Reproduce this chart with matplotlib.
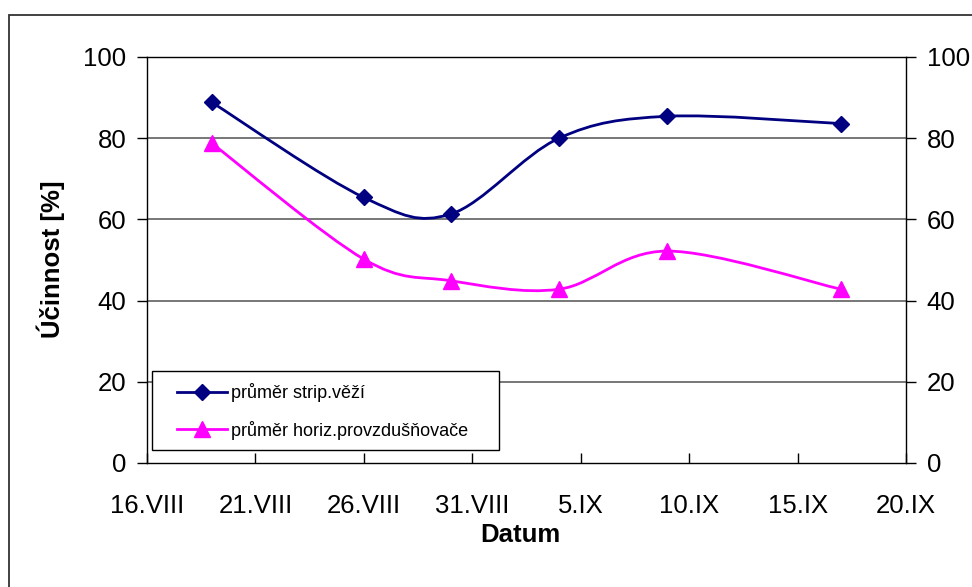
import numpy as np
import pandas as pd
import matplotlib
matplotlib.use("Agg")
import matplotlib.pyplot as plt
import matplotlib.dates as mdates
from matplotlib.path import Path
from matplotlib.patches import PathPatch, Rectangle
from matplotlib.lines import Line2D

plt.rcParams['font.family'] = ['Liberation Sans', 'DejaVu Sans']

# ---- data ----
dates = ["2008-08-19", "2008-08-26", "2008-08-30", "2008-09-04", "2008-09-09", "2008-09-17"]
strip_veze = [88.8, 65.4, 61.3, 80.0, 85.4, 83.6]
horiz_provzd = [78.7, 50.2, 44.9, 42.8, 52.2, 42.8]
series_names = ["průměr strip.věží", "průměr horiz.provzdušňovače"]
x_ticks = ["2008-08-16", "2008-08-21", "2008-08-26", "2008-08-31",
           "2008-09-05", "2008-09-10", "2008-09-15", "2008-09-20"]
x_tick_labels = ["16.VIII", "21.VIII", "26.VIII", "31.VIII", "5.IX", "10.IX", "15.IX", "20.IX"]
y_ticks = [0, 20, 40, 60, 80, 100]
y_label = "Účinnost [%]"
x_label = "Datum"

xd = mdates.date2num(pd.to_datetime(dates))
xt = mdates.date2num(pd.to_datetime(x_ticks))


def smooth_path(x, y):
    """Excel-like smoothed line: Catmull-Rom converted to cubic Bezier segments."""
    pts = np.column_stack([x, y]).astype(float)
    n = len(pts)
    verts = [pts[0]]
    codes = [Path.MOVETO]
    for i in range(n - 1):
        p0 = pts[i - 1] if i > 0 else pts[i]
        p1 = pts[i]
        p2 = pts[i + 1]
        p3 = pts[i + 2] if i + 2 < n else pts[i + 1]
        c1 = p1 + (p2 - p0) / 6.0
        c2 = p2 - (p3 - p1) / 6.0
        verts += [c1, c2, p2]
        codes += [Path.CURVE4] * 3
    return Path(verts, codes)


W, H = 972, 587
fig = plt.figure(figsize=(W / 100, H / 100), dpi=100)

# outer chart border (extends beyond the image on right and bottom)
fig.patches.append(Rectangle((8.7 / W, -0.1), 1.2, (H - 14.7) / H + 0.1,
                             transform=fig.transFigure, fill=False,
                             edgecolor='#333333', linewidth=1.3))

ax = fig.add_axes([147 / W, (H - 463) / H, (906 - 147) / W, (463 - 57) / H])
ax.set_xlim(xt[0], xt[-1])
ax.set_ylim(0, 100)

for v in y_ticks[1:]:
    ax.axhline(v, color='#606060', linewidth=1.2, zorder=1)

navy = '#000080'
magenta = '#FF00FF'
LW = 2.0
ax.add_patch(PathPatch(smooth_path(xd, strip_veze), facecolor='none',
                       edgecolor=navy, linewidth=LW, zorder=3))
ax.add_patch(PathPatch(smooth_path(xd, horiz_provzd), facecolor='none',
                       edgecolor=magenta, linewidth=LW, zorder=3))
ax.plot(xd, strip_veze, linestyle='none', marker='D', markersize=8.3,
        color=navy, zorder=4)
ax.plot(xd, horiz_provzd, linestyle='none', marker='^', markersize=11,
        color=magenta, zorder=4)

ax.set_xticks(xt)
ax.set_xticklabels(x_tick_labels)
ax.set_yticks(y_ticks)
ax.tick_params(axis='x', direction='in', length=7, width=1, labelsize=18.5, pad=22)
ax.tick_params(axis='y', direction='out', length=7, width=1, labelsize=18.5, pad=8,
               right=True, labelright=True)
for s in ax.spines.values():
    s.set_color('black')
    s.set_linewidth(1.0)

fig.text(51 / W, 1 - 259 / H, y_label, fontsize=18.5, fontweight='bold',
         rotation=90, ha='center', va='center')
fig.text(520 / W, 1 - 534.5 / H, x_label, fontsize=18.5, fontweight='bold',
         ha='center', va='center')

# legend box
fig.patches.append(Rectangle((152 / W, 1 - 450 / H), (499 - 152) / W, (450 - 371) / H,
                             transform=fig.transFigure, facecolor='white',
                             edgecolor='black', linewidth=1.0, zorder=5))
handles = [Line2D([], [], color=navy, linewidth=LW, marker='D', markersize=8.3),
           Line2D([], [], color=magenta, linewidth=LW, marker='^', markersize=11)]
leg = fig.legend(handles, series_names, loc='center left',
                 bbox_to_anchor=(177 / W - 0.0, 1 - 411.5 / H),
                 fontsize=13, frameon=False, handlelength=2.75, handletextpad=0.25,
                 labelspacing=1.0, borderpad=0, borderaxespad=0)
leg.set_zorder(6)

fig.savefig('out.png', dpi=100)
